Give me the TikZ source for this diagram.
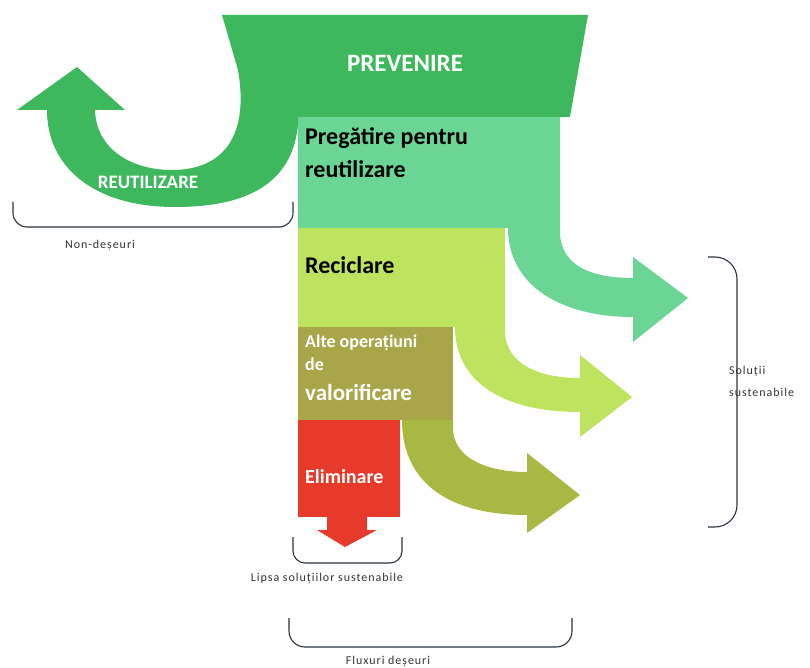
\documentclass[tikz,border=0pt]{standalone}
\usepackage{fontspec}
\setmainfont{Carlito}
\usetikzlibrary{positioning}
\definecolor{prevgreen}{HTML}{3DB85C}
\definecolor{reusegreen}{HTML}{6AD594}
\definecolor{recgreen}{HTML}{BDE35F}
\definecolor{olivebox}{HTML}{A9A64A}
\definecolor{olivearrow}{HTML}{A8B843}
\definecolor{elimred}{HTML}{E63B2A}
\definecolor{bracecol}{HTML}{2A3240}

\begin{document}
\begin{tikzpicture}[x=1pt,y=-1pt,
    txt/.style={inner sep=0pt,font=\bfseries\fontsize{#1}{#1}\selectfont},
    small/.style={inner sep=0pt,text=black!80,
      font=\fontsize{12}{14}\selectfont\addfontfeatures{LetterSpace=8}},
    brace/.style={draw=bracecol,line width=1.1pt,rounded corners=#1}]
  \useasboundingbox (0,0) rectangle (810,668);
  % prevenire + reutilizare
  \fill[prevgreen] (222,15) -- (588,15) -- (570,117) -- (298,117) -- (298,125)
    .. controls (292,185) and (245,207) .. (175,207)
    .. controls (95,207) and (47,168) .. (47,110) -- (17,110) -- (77,67)
    -- (125,110) -- (95,110) .. controls (96,148) and (130,170) .. (172,170)
    .. controls (220,170) and (250,140) .. (238,70) -- cycle;
  % pregatire
  \fill[reusegreen] (298,117) rectangle (560,228);
  \fill[reusegreen] (560,228) -- (560,234) .. controls (562,268) and (595,278) .. (633,278)
    -- (633,257) -- (688,298) -- (633,342) -- (633,317)
    .. controls (560,317) and (508,285) .. (508,228) -- cycle;
  % reciclare
  \fill[recgreen] (298,228) rectangle (505,327);
  \fill[recgreen] (505,327) -- (505,333) .. controls (507,365) and (540,378) .. (580,378)
    -- (580,355) -- (632,397) -- (580,437) -- (580,412)
    .. controls (500,412) and (455,380) .. (455,327) -- cycle;
  % valorificare
  \fill[olivebox] (298,327) rectangle (453,420);
  \fill[olivearrow] (453,420) -- (453,430) .. controls (455,460) and (490,472) .. (527,472)
    -- (527,453) -- (580,495) -- (527,533) -- (527,515)
    .. controls (445,515) and (402,480) .. (402,420) -- cycle;
  % eliminare
  \fill[elimred] (298,420) rectangle (400,517);
  \fill[elimred] (327,516) -- (327,530) -- (317,530) -- (345,547) -- (377,530)
    -- (367,530) -- (367,516) -- cycle;

  \node[txt=25,text=white] (prevenire) at (405,63) {PREVENIRE};
  \node[txt=19,text=white] (reutilizare) at (148,182) {REUTILIZARE};
  \node[txt=24,anchor=base west] (pregatire) at (305,145) {Pregătire pentru};
  \node[txt=24,anchor=base west] (pregatire2) at (305,178) {reutilizare};
  \node[txt=24,anchor=base west] (reciclare) at (305,273) {Reciclare};
  \node[txt=18,text=white,anchor=base west] (alte) at (305,347) {Alte operațiuni};
  \node[txt=18,text=white,anchor=base west] (alte2) at (305,370) {de};
  \node[txt=23,text=white,anchor=base west] (valorificare) at (305,400) {valorificare};
  \node[txt=20,text=white,anchor=base west] (eliminare) at (305,483) {Eliminare};

  \draw[brace=14pt] (13,202) -- (13,227) -- (293,227) -- (293,202);
  \draw[brace=22pt] (708,257) -- (737,257) -- (737,527) -- (708,527);
  \draw[brace=12pt] (293,537) -- (293,563) -- (402,563) -- (402,537);
  \draw[brace=16pt] (289,618) -- (289,647) -- (572,647) -- (572,618);

  \node[small] (nondeseuri) at (100,245) {Non-deșeuri};
  \node[small,anchor=base west] (solutii) at (729,374) {Soluții};
  \node[small,anchor=base west] (solutii2) at (729,396) {sustenabile};
  \node[small] (lipsa) at (327,578) {Lipsa soluțiilor sustenabile};
  \node[small] (fluxuri) at (388,661) {Fluxuri deșeuri};
\end{tikzpicture}
\end{document}
